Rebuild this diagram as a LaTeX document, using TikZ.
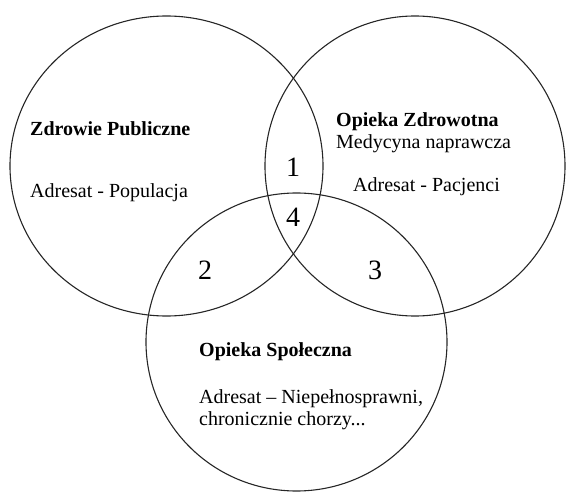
\documentclass[tikz,border=0pt]{standalone}
\usepackage{fontspec}
\setmainfont{Liberation Serif}
\begin{document}
\begin{tikzpicture}[x=1pt,y=-1pt,
  ring/.style={draw=black!85,line width=1.1pt},
  lbl/.style={anchor=base west,inner sep=0pt,font=\fontsize{20}{23}\selectfont},
  ttl/.style={anchor=base west,inner sep=0pt,font=\fontsize{20}{23}\selectfont\bfseries},
  num/.style={anchor=base,inner sep=0pt,font=\fontsize{28}{30}\selectfont}]
\useasboundingbox (0,0) rectangle (566,492);
\draw[ring] (166.5,166) ellipse [x radius=156.5, y radius=150];
\draw[ring] (415,166) circle [radius=150];
\draw[ring] (296.5,342) ellipse [x radius=150.5, y radius=149];
\node[ttl] (zp) at (30,136) {Zdrowie Publiczne};
\node[lbl] (zpa) at (30,198) {Adresat - Populacja};
\node[ttl] (oz) at (336,127) {Opieka Zdrowotna};
\node[lbl] (ozm) at (336,149) {Medycyna naprawcza};
\node[lbl] (oza) at (353,192) {Adresat - Pacjenci};
\node[ttl] (os) at (199,357) {Opieka Społeczna};
\node[lbl] (osa) at (199,403) {Adresat – Niepełnosprawni,};
\node[lbl] (osb) at (199,425) {chronicznie chorzy...};
\node[num] (n1) at (293,177) {1};
\node[num] (n4) at (293,227) {4};
\node[num] (n2) at (205,280) {2};
\node[num] (n3) at (375,280) {3};
\end{tikzpicture}
\end{document}
